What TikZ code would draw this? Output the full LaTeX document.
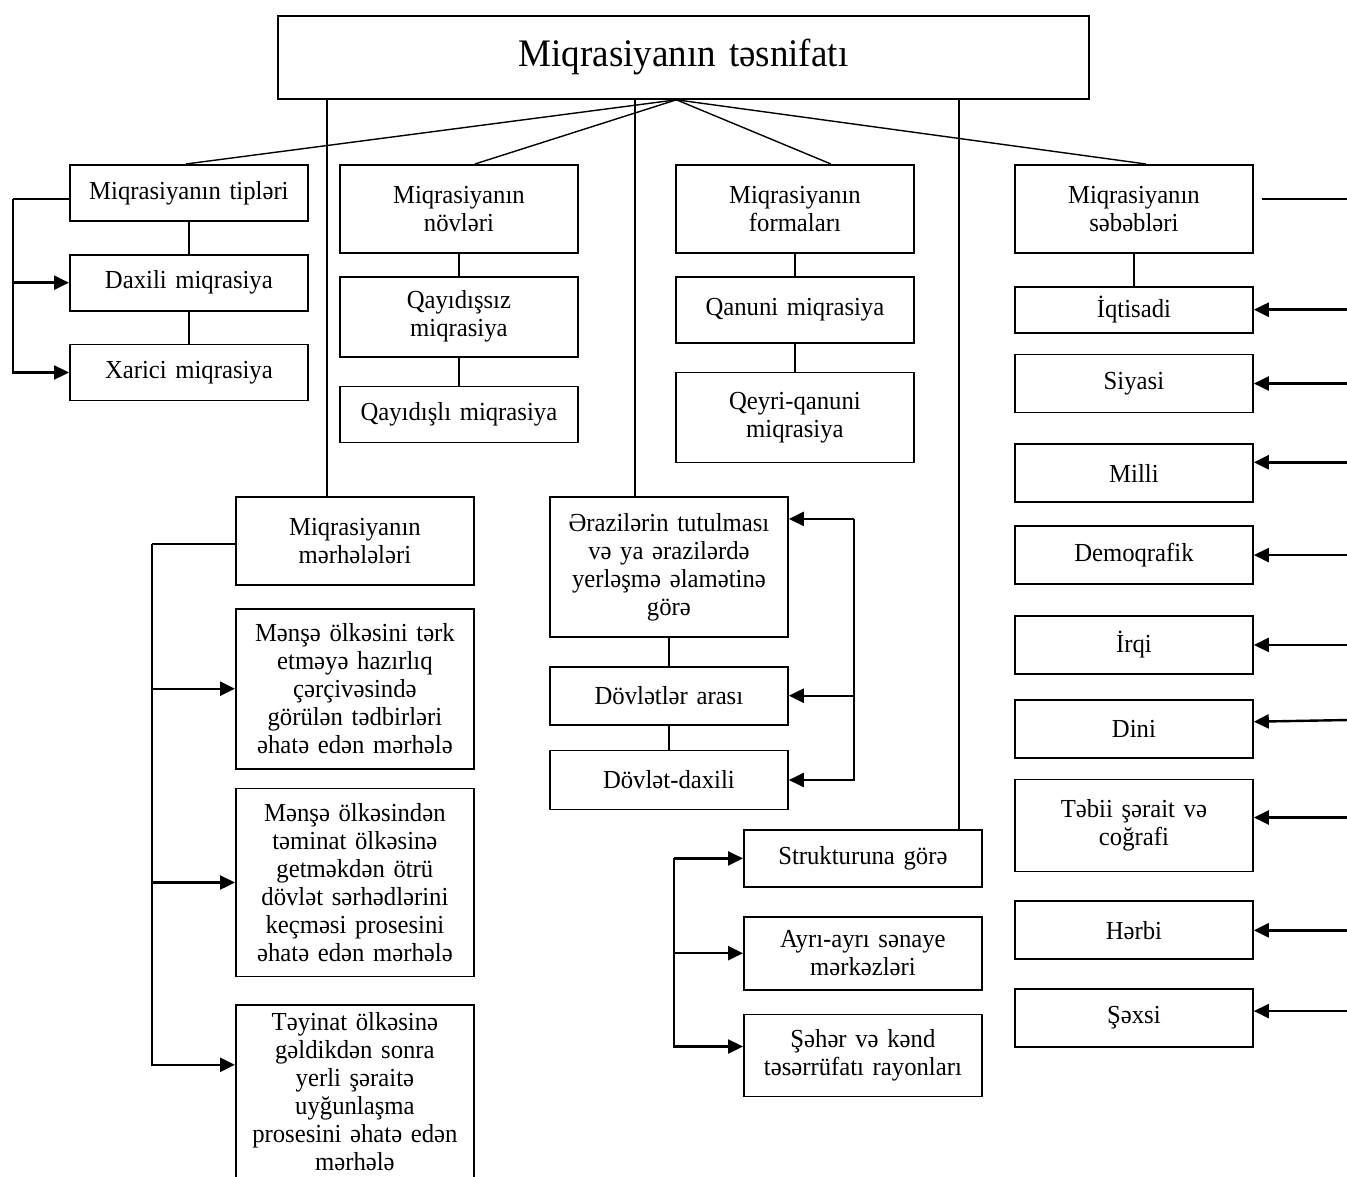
\documentclass[tikz,border=0pt]{standalone}
\usepackage{fontspec}
\setmainfont{Liberation Serif}[FakeStretch=0.95, WordSpace=0.75]
\usetikzlibrary{positioning, arrows.meta}
\tikzset{box/.style={draw, line width=0.9pt, align=center, text width=113pt,
    inner xsep=3pt, inner ysep=2pt, font=\fontsize{13}{14}\selectfont},
  link/.style={line width=0.7pt},
  arr/.style={line width=1.2pt, ->}}

\begin{document}
\begin{tikzpicture}[x=0.5pt, y=-0.5pt, >={Triangle[length=7.5pt,width=7pt]}]
    \useasboundingbox (0,0) rectangle (1347,1176);

    \node[box, anchor=north west, text width=399.5pt, minimum height=41.5pt,
      font=\fontsize{19.5}{22}\selectfont] (title) at (277,15) {Miqrasiyanın təsnifatı};

    % first row
    \node[box, anchor=north west, minimum height=28pt] (tip) at (69,164) {Miqrasiyanın tipləri};
    \node[box, below=16pt of tip, minimum height=28pt] (dax) {Daxili miqrasiya};
    \node[box, below=16pt of dax, minimum height=28pt] (xar) {Xarici miqrasiya};

    \node[box, anchor=north west, minimum height=44pt] (nov) at (339,164) {Miqrasiyanın\\ növləri};
    \node[box, below=11pt of nov, minimum height=40pt] (qsiz) {Qayıdışsız\\ miqrasiya};
    \node[box, below=14pt of qsiz, minimum height=28pt] (qli) {Qayıdışlı miqrasiya};

    \node[box, anchor=north west, minimum height=44pt] (form) at (675,164) {Miqrasiyanın\\ formaları};
    \node[box, below=11pt of form, minimum height=33pt] (qan) {Qanuni miqrasiya};
    \node[box, below=14pt of qan, minimum height=45pt] (qeyri) {Qeyri-qanuni\\ miqrasiya};

    \node[box, anchor=north west, minimum height=44pt] (seb) at (1014,164) {Miqrasiyanın\\ səbəbləri};
    \node[box, below=16pt of seb, minimum height=23pt] (iqt) {İqtisadi};
    \node[box, below=10pt of iqt, minimum height=29pt] (siy) {Siyasi};
    \node[box, below=15pt of siy, minimum height=29pt] (mil) {Milli};
    \node[box, below=11pt of mil, minimum height=29pt] (dem) {Demoqrafik};
    \node[box, below=15pt of dem, minimum height=29pt] (irq) {İrqi};
    \node[box, below=12pt of irq, minimum height=29pt] (din) {Dini};
    \node[box, below=10pt of din, minimum height=46pt] (teb) {Təbii şərait və\\ coğrafi};
    \node[box, below=14pt of teb, minimum height=29pt] (her) {Hərbi};
    \node[box, below=14pt of her, minimum height=29pt] (sex) {Şəxsi};

    % lower groups
    \node[box, anchor=north west, minimum height=44pt] (mer) at (235,496) {Miqrasiyanın\\ mərhələləri};
    \node[box, below=11pt of mer, minimum height=80pt] (m1) {Mənşə ölkəsini tərk\\ etməyə hazırlıq\\ çərçivəsində\\ görülən tədbirləri\\ əhatə edən mərhələ};
    \node[box, below=9pt of m1, minimum height=94pt] (m2) {Mənşə ölkəsindən\\ təminat ölkəsinə\\ getməkdən ötrü\\ dövlət sərhədlərini\\ keçməsi prosesini\\ əhatə edən mərhələ};
    \node[box, below=13.5pt of m2, minimum height=86.5pt] (m3) {Təyinat ölkəsinə\\ gəldikdən sonra\\ yerli şəraitə\\ uyğunlaşma\\ prosesini əhatə edən\\ mərhələ};

    \node[box, anchor=north west, minimum height=70pt] (era) at (549,496) {Ərazilərin tutulması\\ və ya ərazilərdə\\ yerləşmə əlamətinə\\ görə};
    \node[box, below=14pt of era, minimum height=29pt] (dov1) {Dövlətlər arası};
    \node[box, below=12pt of dov1, minimum height=29.5pt] (dov2) {Dövlət-daxili};

    \node[box, anchor=north west, minimum height=28.5pt] (str) at (743,829) {Strukturuna görə};
    \node[box, below=14pt of str, minimum height=36.5pt] (ayr) {Ayrı-ayrı sənaye\\ mərkəzləri};
    \node[box, below=11.5pt of ayr, minimum height=41pt] (seh) {Şəhər və kənd\\ təsərrüfatı rayonları};

    % from the title
    \coordinate (fan) at ([xshift=-3.5pt]title.south);
    \draw[link] (fan) -- ([xshift=-1.5pt]tip.north);
    \draw[link] (fan) -- ([xshift=8pt]nov.north);
    \draw[link] (fan) -- ([xshift=18pt]form.north);
    \draw[link] (fan) -- ([xshift=6pt]seb.north);
    \draw[link] ([xshift=-14pt]mer.north) -- ([xshift=-14pt]mer.north |- title.south);
    \draw[link] ([xshift=-17pt]era.north) -- ([xshift=-17pt]era.north |- title.south);
    \draw[link] ([xshift=48pt]str.north) -- ([xshift=48pt]str.north |- title.south);

    % stacks
    \draw[link] (tip) -- (dax);
    \draw[link] (dax) -- (xar);
    \draw[link] (nov) -- (qsiz);
    \draw[link] (qsiz) -- (qli);
    \draw[link] (form) -- (qan);
    \draw[link] (qan) -- (qeyri);
    \draw[link] (seb) -- (iqt);
    \draw[link] (era) -- (dov1);
    \draw[link] (dov1) -- (dov2);

    % brackets
    \draw[link] ([yshift=-3pt]tip.west) -- ++(-28pt,0) coordinate (tb);
    \draw[arr] (tb) |- (xar.west);
    \draw[arr] (tb |- dax.west) -- (dax.west);

    \draw[link] ([yshift=-1.5pt]mer.west) -- ++(-41.5pt,0) coordinate (mb);
    \draw[arr] (mb) |- ([yshift=13.5pt]m3.west);
    \draw[arr] (mb |- m1.west) -- (m1.west);
    \draw[arr] (mb |- m2.west) -- (m2.west);

    \coordinate (eb) at ([xshift=32.5pt,yshift=24pt]era.east);
    \draw[arr] (eb) -- (eb -| era.east);
    \draw[arr] (eb) |- (dov2.east);
    \draw[arr] (eb |- dov1.east) -- (dov1.east);

    \coordinate (sb) at ([xshift=-34.5pt]str.west);
    \draw[arr] (sb) -- (str.west);
    \draw[arr] (sb) |- ([yshift=4.5pt]seh.west);
    \draw[arr] (sb |- ayr.west) -- (ayr.west);

    % causes, from the right edge
    \coordinate (edge) at (1365,0);
    \draw[link] ([xshift=4pt,yshift=5pt]seb.east) -- ([yshift=5pt]seb.east -| edge);
    \draw[arr] (iqt.east -| edge) -- (iqt.east);
    \draw[arr] (siy.east -| edge) -- (siy.east);
    \draw[arr] ([yshift=5.5pt]mil.east -| edge) -- ([yshift=5.5pt]mil.east);
    \draw[arr] (dem.east -| edge) -- (dem.east);
    \draw[arr] (irq.east -| edge) -- (irq.east);
    \draw[arr] ([yshift=4.5pt]din.east -| edge) -- ([yshift=3.5pt]din.east);
    \draw[arr] ([yshift=4pt]teb.east -| edge) -- ([yshift=4pt]teb.east);
    \draw[arr] (her.east -| edge) -- (her.east);
    \draw[arr] ([yshift=3.5pt]sex.east -| edge) -- ([yshift=3.5pt]sex.east);
\end{tikzpicture}
\end{document}
